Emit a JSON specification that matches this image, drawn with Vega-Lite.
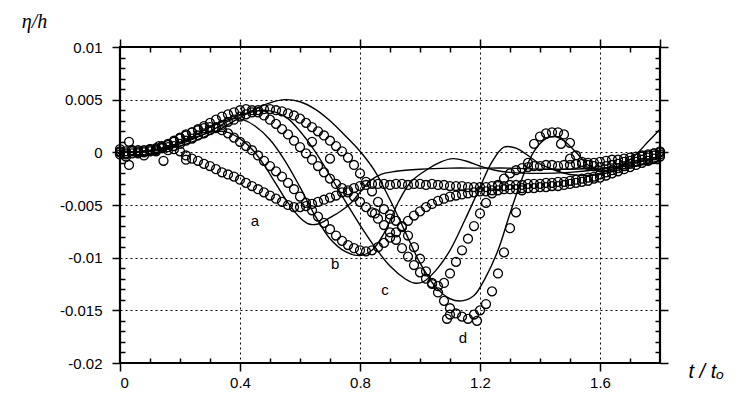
{
"$schema":"https://vega.github.io/schema/vega-lite/v6.json",
"width":540,"height":316,
"autosize":{"type":"none"},
"padding":{"left":120,"top":47,"right":86,"bottom":45},
"background":"white",
"config":{"view":{"stroke":"#000","strokeWidth":2.2}},
"datasets":{
"labs":[{"lab":"a","t":0.45,"v":-0.0065},{"lab":"b","t":0.717,"v":-0.0106},{"lab":"c","t":0.883,"v":-0.0131},{"lab":"d","t":1.143,"v":-0.0176}],
"lns":[
{"c":"a","t":0,"v":0},{"c":"a","t":0.05,"v":0.00005},{"c":"a","t":0.1,"v":0.0002},{"c":"a","t":0.15,"v":0.0005},{"c":"a","t":0.2,"v":0.0009},{"c":"a","t":0.25,"v":0.0014},{"c":"a","t":0.3,"v":0.0019},{"c":"a","t":0.33,"v":0.002},{"c":"a","t":0.36,"v":0.0019},{"c":"a","t":0.4,"v":0.0013},{"c":"a","t":0.44,"v":0.0003},{"c":"a","t":0.48,"v":-0.0012},{"c":"a","t":0.52,"v":-0.003},{"c":"a","t":0.56,"v":-0.0048},{"c":"a","t":0.6,"v":-0.0062},{"c":"a","t":0.63,"v":-0.0068},{"c":"a","t":0.66,"v":-0.0068},{"c":"a","t":0.7,"v":-0.0062},{"c":"a","t":0.74,"v":-0.0055},{"c":"a","t":0.77,"v":-0.0048},{"c":"a","t":0.8,"v":-0.0038},{"c":"a","t":0.83,"v":-0.0028},{"c":"a","t":0.87,"v":-0.0021},{"c":"a","t":0.92,"v":-0.0018},{"c":"a","t":1.0,"v":-0.0016},{"c":"a","t":1.1,"v":-0.0015},{"c":"a","t":1.2,"v":-0.0015},{"c":"a","t":1.3,"v":-0.0015},{"c":"a","t":1.4,"v":-0.0016},{"c":"a","t":1.5,"v":-0.0016},{"c":"a","t":1.6,"v":-0.0015},{"c":"a","t":1.7,"v":-0.0013},{"c":"a","t":1.8,"v":-0.001},
{"c":"b","t":0,"v":0},{"c":"b","t":0.1,"v":0.0001},{"c":"b","t":0.15,"v":0.0004},{"c":"b","t":0.2,"v":0.0009},{"c":"b","t":0.25,"v":0.0016},{"c":"b","t":0.3,"v":0.0024},{"c":"b","t":0.35,"v":0.003},{"c":"b","t":0.38,"v":0.0032},{"c":"b","t":0.41,"v":0.0031},{"c":"b","t":0.45,"v":0.0025},{"c":"b","t":0.5,"v":0.0012},{"c":"b","t":0.55,"v":-0.0008},{"c":"b","t":0.6,"v":-0.0033},{"c":"b","t":0.65,"v":-0.006},{"c":"b","t":0.7,"v":-0.0082},{"c":"b","t":0.75,"v":-0.0094},{"c":"b","t":0.8,"v":-0.0098},{"c":"b","t":0.84,"v":-0.0093},{"c":"b","t":0.88,"v":-0.0077},{"c":"b","t":0.93,"v":-0.0046},{"c":"b","t":0.97,"v":-0.0028},{"c":"b","t":1.02,"v":-0.0017},{"c":"b","t":1.07,"v":-0.0009},{"c":"b","t":1.11,"v":-0.0006},{"c":"b","t":1.15,"v":-0.0008},{"c":"b","t":1.2,"v":-0.0013},{"c":"b","t":1.25,"v":-0.0017},{"c":"b","t":1.3,"v":-0.0019},{"c":"b","t":1.4,"v":-0.002},{"c":"b","t":1.5,"v":-0.0019},{"c":"b","t":1.6,"v":-0.0016},{"c":"b","t":1.7,"v":-0.0011},{"c":"b","t":1.8,"v":-0.0005},
{"c":"c","t":0,"v":0},{"c":"c","t":0.1,"v":0.0001},{"c":"c","t":0.2,"v":0.0008},{"c":"c","t":0.3,"v":0.002},{"c":"c","t":0.35,"v":0.0028},{"c":"c","t":0.4,"v":0.0035},{"c":"c","t":0.45,"v":0.0039},{"c":"c","t":0.48,"v":0.004},{"c":"c","t":0.52,"v":0.0038},{"c":"c","t":0.56,"v":0.0032},{"c":"c","t":0.6,"v":0.002},{"c":"c","t":0.65,"v":0.0001},{"c":"c","t":0.7,"v":-0.0022},{"c":"c","t":0.75,"v":-0.0046},{"c":"c","t":0.8,"v":-0.0069},{"c":"c","t":0.85,"v":-0.009},{"c":"c","t":0.9,"v":-0.0108},{"c":"c","t":0.95,"v":-0.012},{"c":"c","t":0.98,"v":-0.0124},{"c":"c","t":1.01,"v":-0.0123},{"c":"c","t":1.05,"v":-0.0113},{"c":"c","t":1.1,"v":-0.0093},{"c":"c","t":1.15,"v":-0.0064},{"c":"c","t":1.2,"v":-0.0033},{"c":"c","t":1.24,"v":-0.0009},{"c":"c","t":1.28,"v":0.0005},{"c":"c","t":1.32,"v":0.0004},{"c":"c","t":1.36,"v":-0.0003},{"c":"c","t":1.4,"v":-0.0011},{"c":"c","t":1.45,"v":-0.0017},{"c":"c","t":1.5,"v":-0.0021},{"c":"c","t":1.55,"v":-0.0022},{"c":"c","t":1.6,"v":-0.0021},{"c":"c","t":1.7,"v":-0.0014},{"c":"c","t":1.8,"v":-0.0008},
{"c":"d","t":0,"v":0},{"c":"d","t":0.1,"v":0.0001},{"c":"d","t":0.2,"v":0.0006},{"c":"d","t":0.3,"v":0.0017},{"c":"d","t":0.4,"v":0.0033},{"c":"d","t":0.45,"v":0.0041},{"c":"d","t":0.5,"v":0.0047},{"c":"d","t":0.55,"v":0.005},{"c":"d","t":0.6,"v":0.0048},{"c":"d","t":0.65,"v":0.0041},{"c":"d","t":0.7,"v":0.003},{"c":"d","t":0.75,"v":0.0016},{"c":"d","t":0.8,"v":0.0001},{"c":"d","t":0.85,"v":-0.0018},{"c":"d","t":0.9,"v":-0.0045},{"c":"d","t":0.95,"v":-0.0075},{"c":"d","t":1.0,"v":-0.0105},{"c":"d","t":1.05,"v":-0.0127},{"c":"d","t":1.1,"v":-0.0139},{"c":"d","t":1.14,"v":-0.0141},{"c":"d","t":1.18,"v":-0.0136},{"c":"d","t":1.22,"v":-0.0118},{"c":"d","t":1.26,"v":-0.0093},{"c":"d","t":1.3,"v":-0.0058},{"c":"d","t":1.34,"v":-0.0025},{"c":"d","t":1.38,"v":0.0001},{"c":"d","t":1.42,"v":0.0013},{"c":"d","t":1.45,"v":0.0015},{"c":"d","t":1.48,"v":0.0011},{"c":"d","t":1.52,"v":0.0},{"c":"d","t":1.56,"v":-0.0012},{"c":"d","t":1.6,"v":-0.0018},{"c":"d","t":1.64,"v":-0.0017},{"c":"d","t":1.68,"v":-0.0011},{"c":"d","t":1.72,"v":-0.0002},{"c":"d","t":1.76,"v":0.001},{"c":"d","t":1.8,"v":0.0022}
],
"pts":[
{"s":"a","t":0,"v":-0.0002},{"s":"a","t":0.02,"v":0.0001},{"s":"a","t":0.04,"v":-0.0001},{"s":"a","t":0.06,"v":0.0002},{"s":"a","t":0.08,"v":0},{"s":"a","t":0.1,"v":0.0003},{"s":"a","t":0.12,"v":0.0002},{"s":"a","t":0.14,"v":0.0004},{"s":"a","t":0.16,"v":0.0005},{"s":"a","t":0.18,"v":0.0003},{"s":"a","t":0.2,"v":0.0001},{"s":"a","t":0.22,"v":-0.0003},{"s":"a","t":0.24,"v":-0.0006},{"s":"a","t":0.26,"v":-0.0008},{"s":"a","t":0.28,"v":-0.0011},{"s":"a","t":0.3,"v":-0.0013},{"s":"a","t":0.32,"v":-0.0016},{"s":"a","t":0.34,"v":-0.0019},{"s":"a","t":0.36,"v":-0.0021},{"s":"a","t":0.38,"v":-0.0023},{"s":"a","t":0.4,"v":-0.0026},{"s":"a","t":0.42,"v":-0.0029},{"s":"a","t":0.44,"v":-0.0032},{"s":"a","t":0.46,"v":-0.0035},{"s":"a","t":0.48,"v":-0.0038},{"s":"a","t":0.5,"v":-0.0041},{"s":"a","t":0.52,"v":-0.0044},{"s":"a","t":0.54,"v":-0.0047},{"s":"a","t":0.56,"v":-0.005},{"s":"a","t":0.58,"v":-0.0052},{"s":"a","t":0.6,"v":-0.0052},{"s":"a","t":0.62,"v":-0.0051},{"s":"a","t":0.64,"v":-0.0049},{"s":"a","t":0.66,"v":-0.0047},{"s":"a","t":0.68,"v":-0.0045},{"s":"a","t":0.7,"v":-0.0043},{"s":"a","t":0.72,"v":-0.0041},{"s":"a","t":0.74,"v":-0.0038},{"s":"a","t":0.76,"v":-0.0036},{"s":"a","t":0.78,"v":-0.0034},{"s":"a","t":0.8,"v":-0.0032},{"s":"a","t":0.82,"v":-0.0031},{"s":"a","t":0.84,"v":-0.003},{"s":"a","t":0.86,"v":-0.003},{"s":"a","t":0.88,"v":-0.003},{"s":"a","t":0.9,"v":-0.0031},{"s":"a","t":0.92,"v":-0.003},{"s":"a","t":0.94,"v":-0.003},{"s":"a","t":0.96,"v":-0.0031},{"s":"a","t":0.98,"v":-0.003},{"s":"a","t":1.0,"v":-0.003},{"s":"a","t":1.02,"v":-0.0031},{"s":"a","t":1.04,"v":-0.003},{"s":"a","t":1.06,"v":-0.0031},{"s":"a","t":1.08,"v":-0.0031},{"s":"a","t":1.1,"v":-0.0032},{"s":"a","t":1.12,"v":-0.0032},{"s":"a","t":1.14,"v":-0.0032},{"s":"a","t":1.16,"v":-0.0033},{"s":"a","t":1.18,"v":-0.0033},{"s":"a","t":1.2,"v":-0.0033},{"s":"a","t":1.22,"v":-0.0033},{"s":"a","t":1.24,"v":-0.0032},{"s":"a","t":1.26,"v":-0.0032},{"s":"a","t":1.28,"v":-0.0032},{"s":"a","t":1.3,"v":-0.0031},{"s":"a","t":1.32,"v":-0.0031},{"s":"a","t":1.34,"v":-0.0031},{"s":"a","t":1.36,"v":-0.003},{"s":"a","t":1.38,"v":-0.003},{"s":"a","t":1.4,"v":-0.003},{"s":"a","t":1.42,"v":-0.0029},{"s":"a","t":1.44,"v":-0.0029},{"s":"a","t":1.46,"v":-0.0028},{"s":"a","t":1.48,"v":-0.0028},{"s":"a","t":1.5,"v":-0.0027},{"s":"a","t":1.52,"v":-0.0026},{"s":"a","t":1.54,"v":-0.0025},{"s":"a","t":1.56,"v":-0.0024},{"s":"a","t":1.58,"v":-0.0023},{"s":"a","t":1.6,"v":-0.0021},{"s":"a","t":1.62,"v":-0.0019},{"s":"a","t":1.64,"v":-0.0017},{"s":"a","t":1.66,"v":-0.0015},{"s":"a","t":1.68,"v":-0.0013},{"s":"a","t":1.7,"v":-0.0011},{"s":"a","t":1.72,"v":-0.0009},{"s":"a","t":1.74,"v":-0.0007},{"s":"a","t":1.76,"v":-0.0005},{"s":"a","t":1.78,"v":-0.0003},{"s":"a","t":1.8,"v":-0.0002},
{"s":"b","t":0,"v":0},{"s":"b","t":0.02,"v":-0.0002},{"s":"b","t":0.04,"v":0.0001},{"s":"b","t":0.06,"v":0},{"s":"b","t":0.08,"v":0.0002},{"s":"b","t":0.1,"v":0.0001},{"s":"b","t":0.12,"v":0.0004},{"s":"b","t":0.14,"v":0.0006},{"s":"b","t":0.16,"v":0.0008},{"s":"b","t":0.18,"v":0.0011},{"s":"b","t":0.2,"v":0.0014},{"s":"b","t":0.22,"v":0.0017},{"s":"b","t":0.24,"v":0.0019},{"s":"b","t":0.26,"v":0.0021},{"s":"b","t":0.28,"v":0.0023},{"s":"b","t":0.3,"v":0.0024},{"s":"b","t":0.32,"v":0.0023},{"s":"b","t":0.34,"v":0.0021},{"s":"b","t":0.36,"v":0.0018},{"s":"b","t":0.38,"v":0.0014},{"s":"b","t":0.4,"v":0.001},{"s":"b","t":0.42,"v":0.0006},{"s":"b","t":0.44,"v":0.0002},{"s":"b","t":0.46,"v":-0.0003},{"s":"b","t":0.48,"v":-0.0008},{"s":"b","t":0.5,"v":-0.0013},{"s":"b","t":0.52,"v":-0.0018},{"s":"b","t":0.54,"v":-0.0023},{"s":"b","t":0.56,"v":-0.0029},{"s":"b","t":0.58,"v":-0.0035},{"s":"b","t":0.6,"v":-0.0042},{"s":"b","t":0.62,"v":-0.0048},{"s":"b","t":0.64,"v":-0.0055},{"s":"b","t":0.66,"v":-0.0061},{"s":"b","t":0.68,"v":-0.0067},{"s":"b","t":0.7,"v":-0.0073},{"s":"b","t":0.72,"v":-0.0079},{"s":"b","t":0.74,"v":-0.0084},{"s":"b","t":0.76,"v":-0.0088},{"s":"b","t":0.78,"v":-0.0091},{"s":"b","t":0.8,"v":-0.0093},{"s":"b","t":0.82,"v":-0.0094},{"s":"b","t":0.84,"v":-0.0093},{"s":"b","t":0.86,"v":-0.009},{"s":"b","t":0.88,"v":-0.0086},{"s":"b","t":0.9,"v":-0.0081},{"s":"b","t":0.92,"v":-0.0076},{"s":"b","t":0.94,"v":-0.007},{"s":"b","t":0.96,"v":-0.0065},{"s":"b","t":0.98,"v":-0.006},{"s":"b","t":1.0,"v":-0.0056},{"s":"b","t":1.02,"v":-0.0052},{"s":"b","t":1.04,"v":-0.0049},{"s":"b","t":1.06,"v":-0.0046},{"s":"b","t":1.08,"v":-0.0044},{"s":"b","t":1.1,"v":-0.0042},{"s":"b","t":1.12,"v":-0.0041},{"s":"b","t":1.14,"v":-0.004},{"s":"b","t":1.16,"v":-0.0039},{"s":"b","t":1.18,"v":-0.0038},{"s":"b","t":1.2,"v":-0.0037},{"s":"b","t":1.22,"v":-0.0037},{"s":"b","t":1.24,"v":-0.0036},{"s":"b","t":1.26,"v":-0.0036},{"s":"b","t":1.28,"v":-0.0035},{"s":"b","t":1.3,"v":-0.0035},{"s":"b","t":1.32,"v":-0.0035},{"s":"b","t":1.34,"v":-0.0034},{"s":"b","t":1.36,"v":-0.0034},{"s":"b","t":1.38,"v":-0.0034},{"s":"b","t":1.4,"v":-0.0033},{"s":"b","t":1.42,"v":-0.0033},{"s":"b","t":1.44,"v":-0.0032},{"s":"b","t":1.46,"v":-0.0032},{"s":"b","t":1.48,"v":-0.0031},{"s":"b","t":1.5,"v":-0.003},{"s":"b","t":1.52,"v":-0.0029},{"s":"b","t":1.54,"v":-0.0028},{"s":"b","t":1.56,"v":-0.0027},{"s":"b","t":1.58,"v":-0.0025},{"s":"b","t":1.6,"v":-0.0024},{"s":"b","t":1.62,"v":-0.0022},{"s":"b","t":1.64,"v":-0.002},{"s":"b","t":1.66,"v":-0.0018},{"s":"b","t":1.68,"v":-0.0016},{"s":"b","t":1.7,"v":-0.0014},{"s":"b","t":1.72,"v":-0.0012},{"s":"b","t":1.74,"v":-0.001},{"s":"b","t":1.76,"v":-0.0008},{"s":"b","t":1.78,"v":-0.0006},{"s":"b","t":1.8,"v":-0.0004},
{"s":"c","t":0,"v":0.0001},{"s":"c","t":0.02,"v":-0.0001},{"s":"c","t":0.04,"v":0.0002},{"s":"c","t":0.06,"v":-0.0001},{"s":"c","t":0.08,"v":0.0001},{"s":"c","t":0.1,"v":0.0002},{"s":"c","t":0.12,"v":0.0003},{"s":"c","t":0.14,"v":0.0005},{"s":"c","t":0.16,"v":0.0007},{"s":"c","t":0.18,"v":0.001},{"s":"c","t":0.2,"v":0.0013},{"s":"c","t":0.22,"v":0.0016},{"s":"c","t":0.24,"v":0.0019},{"s":"c","t":0.26,"v":0.0022},{"s":"c","t":0.28,"v":0.0025},{"s":"c","t":0.3,"v":0.0028},{"s":"c","t":0.32,"v":0.0031},{"s":"c","t":0.34,"v":0.0034},{"s":"c","t":0.36,"v":0.0036},{"s":"c","t":0.38,"v":0.0038},{"s":"c","t":0.4,"v":0.004},{"s":"c","t":0.42,"v":0.0041},{"s":"c","t":0.44,"v":0.004},{"s":"c","t":0.46,"v":0.0038},{"s":"c","t":0.48,"v":0.0035},{"s":"c","t":0.5,"v":0.0031},{"s":"c","t":0.52,"v":0.0027},{"s":"c","t":0.54,"v":0.0022},{"s":"c","t":0.56,"v":0.0017},{"s":"c","t":0.58,"v":0.0011},{"s":"c","t":0.6,"v":0.0005},{"s":"c","t":0.62,"v":-0.0001},{"s":"c","t":0.64,"v":-0.0007},{"s":"c","t":0.66,"v":-0.0013},{"s":"c","t":0.68,"v":-0.0019},{"s":"c","t":0.7,"v":-0.0025},{"s":"c","t":0.72,"v":-0.003},{"s":"c","t":0.74,"v":-0.0034},{"s":"c","t":0.76,"v":-0.0038},{"s":"c","t":0.78,"v":-0.0042},{"s":"c","t":0.8,"v":-0.0047},{"s":"c","t":0.82,"v":-0.0052},{"s":"c","t":0.84,"v":-0.0057},{"s":"c","t":0.86,"v":-0.0063},{"s":"c","t":0.88,"v":-0.0069},{"s":"c","t":0.9,"v":-0.0076},{"s":"c","t":0.92,"v":-0.0083},{"s":"c","t":0.94,"v":-0.0091},{"s":"c","t":0.96,"v":-0.0099},{"s":"c","t":0.98,"v":-0.0107},{"s":"c","t":1.0,"v":-0.0114},{"s":"c","t":1.02,"v":-0.012},{"s":"c","t":1.04,"v":-0.0125},{"s":"c","t":1.06,"v":-0.0127},{"s":"c","t":1.08,"v":-0.0124},{"s":"c","t":1.1,"v":-0.0115},{"s":"c","t":1.12,"v":-0.0104},{"s":"c","t":1.14,"v":-0.0093},{"s":"c","t":1.16,"v":-0.0082},{"s":"c","t":1.18,"v":-0.007},{"s":"c","t":1.2,"v":-0.0058},{"s":"c","t":1.22,"v":-0.0048},{"s":"c","t":1.24,"v":-0.0039},{"s":"c","t":1.26,"v":-0.0031},{"s":"c","t":1.28,"v":-0.0025},{"s":"c","t":1.3,"v":-0.002},{"s":"c","t":1.32,"v":-0.0017},{"s":"c","t":1.34,"v":-0.0015},{"s":"c","t":1.36,"v":-0.0014},{"s":"c","t":1.38,"v":-0.0013},{"s":"c","t":1.4,"v":-0.0013},{"s":"c","t":1.42,"v":-0.0012},{"s":"c","t":1.44,"v":-0.0012},{"s":"c","t":1.46,"v":-0.0013},{"s":"c","t":1.48,"v":-0.0012},{"s":"c","t":1.5,"v":-0.0012},{"s":"c","t":1.52,"v":-0.0011},{"s":"c","t":1.54,"v":-0.0011},{"s":"c","t":1.56,"v":-0.001},{"s":"c","t":1.58,"v":-0.001},{"s":"c","t":1.6,"v":-0.0009},{"s":"c","t":1.62,"v":-0.0008},{"s":"c","t":1.64,"v":-0.0007},{"s":"c","t":1.66,"v":-0.0007},{"s":"c","t":1.68,"v":-0.0006},{"s":"c","t":1.7,"v":-0.0005},{"s":"c","t":1.72,"v":-0.0004},{"s":"c","t":1.74,"v":-0.0003},{"s":"c","t":1.76,"v":-0.0002},{"s":"c","t":1.78,"v":-0.0001},{"s":"c","t":1.8,"v":0},
{"s":"d","t":0,"v":0.0003},{"s":"d","t":0.02,"v":-0.0004},{"s":"d","t":0.04,"v":0.0002},{"s":"d","t":0.06,"v":0.0001},{"s":"d","t":0.08,"v":-0.0003},{"s":"d","t":0.1,"v":0.0003},{"s":"d","t":0.12,"v":0.0001},{"s":"d","t":0.14,"v":0.0004},{"s":"d","t":0.16,"v":0.0002},{"s":"d","t":0.18,"v":0.0006},{"s":"d","t":0.2,"v":0.0008},{"s":"d","t":0.22,"v":0.0011},{"s":"d","t":0.24,"v":0.0013},{"s":"d","t":0.26,"v":0.0016},{"s":"d","t":0.28,"v":0.0018},{"s":"d","t":0.3,"v":0.0021},{"s":"d","t":0.32,"v":0.0024},{"s":"d","t":0.34,"v":0.0026},{"s":"d","t":0.36,"v":0.0029},{"s":"d","t":0.38,"v":0.0031},{"s":"d","t":0.4,"v":0.0034},{"s":"d","t":0.42,"v":0.0036},{"s":"d","t":0.44,"v":0.0038},{"s":"d","t":0.46,"v":0.004},{"s":"d","t":0.48,"v":0.0041},{"s":"d","t":0.5,"v":0.0041},{"s":"d","t":0.52,"v":0.004},{"s":"d","t":0.54,"v":0.0039},{"s":"d","t":0.56,"v":0.0037},{"s":"d","t":0.58,"v":0.0035},{"s":"d","t":0.6,"v":0.0032},{"s":"d","t":0.62,"v":0.0028},{"s":"d","t":0.64,"v":0.0024},{"s":"d","t":0.66,"v":0.002},{"s":"d","t":0.68,"v":0.0016},{"s":"d","t":0.7,"v":0.0011},{"s":"d","t":0.72,"v":0.0006},{"s":"d","t":0.74,"v":0.0001},{"s":"d","t":0.76,"v":-0.0005},{"s":"d","t":0.78,"v":-0.0012},{"s":"d","t":0.8,"v":-0.002},{"s":"d","t":0.82,"v":-0.0028},{"s":"d","t":0.84,"v":-0.0037},{"s":"d","t":0.86,"v":-0.0047},{"s":"d","t":0.88,"v":-0.0054},{"s":"d","t":0.9,"v":-0.0059},{"s":"d","t":0.92,"v":-0.0065},{"s":"d","t":0.94,"v":-0.0071},{"s":"d","t":0.96,"v":-0.0079},{"s":"d","t":0.98,"v":-0.009},{"s":"d","t":1.0,"v":-0.0101},{"s":"d","t":1.02,"v":-0.0113},{"s":"d","t":1.04,"v":-0.0124},{"s":"d","t":1.06,"v":-0.0133},{"s":"d","t":1.08,"v":-0.0141},{"s":"d","t":1.1,"v":-0.0148},{"s":"d","t":1.12,"v":-0.0153},{"s":"d","t":1.14,"v":-0.0156},{"s":"d","t":1.16,"v":-0.0158},{"s":"d","t":1.18,"v":-0.0154},{"s":"d","t":1.2,"v":-0.015},{"s":"d","t":1.22,"v":-0.0144},{"s":"d","t":1.24,"v":-0.0132},{"s":"d","t":1.26,"v":-0.0115},{"s":"d","t":1.28,"v":-0.0095},{"s":"d","t":1.3,"v":-0.0072},{"s":"d","t":1.32,"v":-0.0057},{"s":"d","t":1.34,"v":-0.0036},{"s":"d","t":1.36,"v":-0.001},{"s":"d","t":1.38,"v":0.0008},{"s":"d","t":1.4,"v":0.0015},{"s":"d","t":1.42,"v":0.0018},{"s":"d","t":1.44,"v":0.0019},{"s":"d","t":1.46,"v":0.0019},{"s":"d","t":1.48,"v":0.0017},{"s":"d","t":1.5,"v":0.0009},{"s":"d","t":1.52,"v":-0.0003},{"s":"d","t":1.54,"v":-0.0009},{"s":"d","t":1.56,"v":-0.0012},{"s":"d","t":1.58,"v":-0.0013},{"s":"d","t":1.6,"v":-0.0014},{"s":"d","t":1.62,"v":-0.0013},{"s":"d","t":1.64,"v":-0.0012},{"s":"d","t":1.66,"v":-0.0011},{"s":"d","t":1.68,"v":-0.0009},{"s":"d","t":1.7,"v":-0.0008},{"s":"d","t":1.72,"v":-0.0006},{"s":"d","t":1.74,"v":-0.0004},{"s":"d","t":1.76,"v":-0.0003},{"s":"d","t":1.78,"v":-0.0001},{"s":"d","t":1.8,"v":0.0001},
{"s":"d","t":0.03,"v":0.001},{"s":"d","t":0.03,"v":-0.0012},{"s":"d","t":0.13,"v":0.0006},{"s":"d","t":0.145,"v":-0.0008},{"s":"d","t":0.22,"v":-0.0007},{"s":"d","t":0.64,"v":0.001},{"s":"d","t":0.7,"v":-0.0006},{"s":"d","t":0.85,"v":-0.0058},{"s":"d","t":0.9,"v":-0.0063},{"s":"d","t":1.09,"v":-0.0158},{"s":"d","t":1.1,"v":-0.0154},{"s":"d","t":1.19,"v":-0.016},{"s":"d","t":1.47,"v":0.0008},{"s":"d","t":1.5,"v":-0.0006}
]
},
"resolve":{"axis":{"x":"independent","y":"independent"}},
"layer":[
{
"data":{"name":"pts"},
"transform":[{"filter":"datum.s=='a'||datum.s=='b'"}],
"mark":{"type":"point","shape":"circle","filled":false,"stroke":"#000","strokeWidth":1.3,"size":80,"opacity":1},
"encoding":{
"x":{"field":"t","type":"quantitative","scale":{"domain":[0,1.8],"nice":false,"zero":false},
"axis":{"orient":"bottom","values":[0,0.4,0.8,1.2,1.6],"labelExpr":"''+datum.value","grid":true,"gridDash":[2,3],"gridColor":"#000","gridWidth":1,"gridOpacity":1,"tickSize":8,"tickWidth":1.5,"tickColor":"#000","domain":false,"labelFont":"Liberation Sans","labelFontSize":15,"labelColor":"#000","labelPadding":4,"title":"t / tₒ","titleFont":"Liberation Sans","titleFontStyle":"italic","titleFontWeight":"normal","titleFontSize":20,"titleColor":"#000","titleAlign":"left","titleBaseline":"middle","titleAngle":0,"titleX":568,"titleY":8}},
"y":{"field":"v","type":"quantitative","scale":{"domain":[-0.02,0.01],"nice":false,"zero":false},
"axis":{"orient":"left","values":[-0.02,-0.015,-0.01,-0.005,0,0.005,0.01],"labelExpr":"''+datum.value","grid":true,"gridDash":[2,3],"gridColor":"#000","gridWidth":1,"gridOpacity":1,"tickSize":8,"tickWidth":1.5,"tickColor":"#000","domain":false,"labelFont":"Liberation Sans","labelFontSize":15,"labelColor":"#000","labelPadding":10,"title":"η/h","titleFont":"Liberation Serif","titleFontStyle":"italic","titleFontWeight":"normal","titleFontSize":20,"titleColor":"#000","titleAngle":0,"titleAlign":"center","titleBaseline":"middle","titleX":-86,"titleY":-26}}
}
},
{
"data":{"name":"pts"},
"transform":[{"filter":"datum.s=='c'||datum.s=='d'"}],
"mark":{"type":"point","shape":"circle","filled":false,"stroke":"#000","strokeWidth":1.3,"size":80,"opacity":1},
"encoding":{
"x":{"field":"t","type":"quantitative","scale":{"domain":[0,1.8],"nice":false,"zero":false},
"axis":{"orient":"top","values":[0.1,0.2,0.3,0.5,0.6,0.7,0.9,1.0,1.1,1.3,1.4,1.5,1.7],"labels":false,"grid":false,"tickSize":-5,"tickWidth":1.5,"tickColor":"#000","domain":false,"title":null}},
"y":{"field":"v","type":"quantitative","scale":{"domain":[-0.02,0.01],"nice":false,"zero":false},
"axis":{"orient":"right","values":[-0.019,-0.018,-0.017,-0.016,-0.014,-0.013,-0.012,-0.011,-0.009,-0.008,-0.007,-0.006,-0.004,-0.003,-0.002,-0.001,0.001,0.002,0.003,0.004,0.006,0.007,0.008,0.009],"labels":false,"grid":false,"tickSize":-5,"tickWidth":1.5,"tickColor":"#000","domain":false,"title":null}}
}
},
{
"data":{"name":"lns"},
"mark":{"type":"line","stroke":"#000","strokeWidth":1.4,"interpolate":"catmull-rom"},
"encoding":{
"detail":{"field":"c"},
"x":{"field":"t","type":"quantitative","scale":{"domain":[0,1.8],"nice":false,"zero":false},
"axis":{"orient":"top","values":[0,0.4,0.8,1.2,1.6,1.8],"labels":false,"grid":false,"tickSize":8,"tickWidth":1.5,"tickColor":"#000","domain":false,"title":null}},
"y":{"field":"v","type":"quantitative","scale":{"domain":[-0.02,0.01],"nice":false,"zero":false},
"axis":{"orient":"right","values":[-0.02,-0.015,-0.01,-0.005,0,0.005,0.01],"labels":false,"grid":false,"tickSize":8,"tickWidth":1.5,"tickColor":"#000","domain":false,"title":null}}
}
},
{
"data":{"name":"labs"},
"mark":{"type":"text","font":"Liberation Sans","fontSize":15,"fill":"#000","align":"center","baseline":"middle"},
"encoding":{
"text":{"field":"lab"},
"x":{"field":"t","type":"quantitative","scale":{"domain":[0,1.8],"nice":false,"zero":false},
"axis":{"orient":"bottom","values":[0.1,0.2,0.3,0.5,0.6,0.7,0.9,1.0,1.1,1.3,1.4,1.5,1.7],"labels":false,"grid":false,"tickSize":-5,"tickWidth":1.5,"tickColor":"#000","domain":false,"title":null}},
"y":{"field":"v","type":"quantitative","scale":{"domain":[-0.02,0.01],"nice":false,"zero":false},
"axis":{"orient":"left","values":[-0.019,-0.018,-0.017,-0.016,-0.014,-0.013,-0.012,-0.011,-0.009,-0.008,-0.007,-0.006,-0.004,-0.003,-0.002,-0.001,0.001,0.002,0.003,0.004,0.006,0.007,0.008,0.009],"labels":false,"grid":false,"tickSize":-5,"tickWidth":1.5,"tickColor":"#000","domain":false,"title":null}}
}
}
]
}
